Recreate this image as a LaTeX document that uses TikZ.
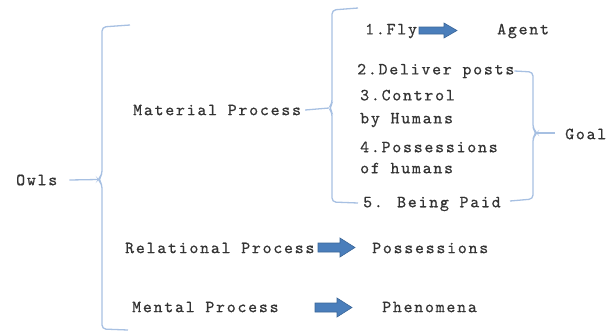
\documentclass[tikz,border=0pt]{standalone}
\usepackage{fontspec}
\newfontfamily\lblfont{lmmono10-regular}[Extension=.otf, LetterSpace=10.5, FakeBold=0.7]
\definecolor{bracecol}{HTML}{A7C0E2}
\definecolor{arrfill}{HTML}{4A7EBB}
\definecolor{arrdraw}{HTML}{3A6597}
\definecolor{txt}{HTML}{333333}
\tikzset{
  lbl/.style={anchor=west, inner sep=0pt, text=txt, font=\lblfont\fontsize{17}{22}\selectfont},
  brace/.style={draw=bracecol, line width=1.3pt, rounded corners=4pt},
  bline/.style={draw=bracecol, line width=1.3pt},
  blockarrow/.style={fill=arrfill, draw=arrdraw, line width=0.6pt, line join=miter}
}
\begin{document}
\begin{tikzpicture}[x=1pt,y=-1pt]
\useasboundingbox (0,0) rectangle (608,333);
% texts
\node[lbl] (owls) at (16,180) {Owls};
\node[lbl] (mat) at (133,110) {Material Process};
\node[lbl] (fly) at (365,31) {1.Fly};
\node[lbl] (agent) at (497,31) {Agent};
\node[lbl] (deliver) at (357,71) {2.Deliver posts};
\node[lbl, align=left, font=\lblfont\fontsize{17}{23}\selectfont] (control) at (360,108.5) {3.Control\\by Humans};
\node[lbl, align=left, font=\lblfont\fontsize{17}{21}\selectfont] (poss4) at (360,157.5) {4.Possessions\\of humans};
\node[lbl] (paid) at (363,204) {5. Being Paid};
\node[lbl] (goal) at (565,134) {Goal};
\node[lbl] (rel) at (125,248) {Relational Process};
\node[lbl] (possr) at (372,248) {Possessions};
\node[lbl] (ment) at (132,307) {Mental Process};
\node[lbl] (phen) at (382,307) {Phenomena};
% block arrows
\coordinate (a1) at (419,30.5);
\draw[blockarrow] (a1) ++(0,-3.5) -- ++(25,0) -- ++(0,-4) -- ++(13,7.5) -- ++(-13,7.5) -- ++(0,-4) -- ++(-25,0) -- cycle;
\coordinate (a2) at (318,247.5);
\draw[blockarrow] (a2) ++(0,-4.5) -- ++(22,0) -- ++(0,-5) -- ++(15,9.5) -- ++(-15,9.5) -- ++(0,-5) -- ++(-22,0) -- cycle;
\coordinate (a3) at (315,307.5);
\draw[blockarrow] (a3) ++(0,-4.5) -- ++(22,0) -- ++(0,-5) -- ++(15,9.5) -- ++(-15,9.5) -- ++(0,-5) -- ++(-22,0) -- cycle;
% big brace
\coordinate (bt) at (98,179.5);
\draw[brace] (130,25) -- (102,27) -- (102,175) -- (bt) -- (102,184) -- (102,329) -- (128,330);
\draw[bline] ([xshift=12pt]owls.east) -- (bt);
% material brace
\coordinate (mt) at (329,108);
\draw[brace] (358,8) -- (332,10) -- (332,104) -- (mt) -- (332,112) -- (332,202) -- (358,203);
\draw[bline] ([xshift=4pt]mat.east) -- (mt);
% goal brace
\coordinate (gt) at (537,133);
\draw[brace] (deliver.east) -- (533,72) -- (533,129) -- (gt) -- (533,137) -- (533,199) -- (510,201);
\draw[bline] (gt) -- (555,133);
\end{tikzpicture}
\end{document}
